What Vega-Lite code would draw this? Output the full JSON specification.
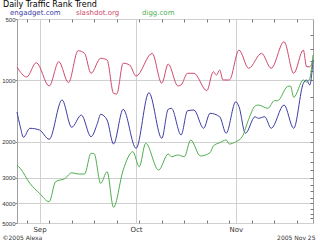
{
  "$schema": "https://vega.github.io/schema/vega-lite/v6.json",
  "width": 296,
  "height": 204,
  "autosize": {"type": "none"},
  "padding": {"left": 17, "top": 19, "right": 7, "bottom": 17},
  "background": "white",
  "config": {"view": {"stroke": "#a0a0a0", "strokeWidth": 1}, "font": "DejaVu Sans"},
  "data": {"values": [
    {"date": "2005-08-25", "site": "slashdot.org", "rank": 860},
    {"date": "2005-08-28", "site": "slashdot.org", "rank": 962},
    {"date": "2005-08-31", "site": "slashdot.org", "rank": 819},
    {"date": "2005-09-04", "site": "slashdot.org", "rank": 1065},
    {"date": "2005-09-07", "site": "slashdot.org", "rank": 810},
    {"date": "2005-09-10", "site": "slashdot.org", "rank": 1026},
    {"date": "2005-09-13", "site": "slashdot.org", "rank": 715},
    {"date": "2005-09-15", "site": "slashdot.org", "rank": 737},
    {"date": "2005-09-17", "site": "slashdot.org", "rank": 923},
    {"date": "2005-09-20", "site": "slashdot.org", "rank": 779},
    {"date": "2005-09-22", "site": "slashdot.org", "rank": 794},
    {"date": "2005-09-24", "site": "slashdot.org", "rank": 1157},
    {"date": "2005-09-25", "site": "slashdot.org", "rank": 1166},
    {"date": "2005-09-27", "site": "slashdot.org", "rank": 824},
    {"date": "2005-09-29", "site": "slashdot.org", "rank": 840},
    {"date": "2005-10-01", "site": "slashdot.org", "rank": 952},
    {"date": "2005-10-06", "site": "slashdot.org", "rank": 737},
    {"date": "2005-10-09", "site": "slashdot.org", "rank": 1033},
    {"date": "2005-10-11", "site": "slashdot.org", "rank": 831},
    {"date": "2005-10-14", "site": "slashdot.org", "rank": 1065},
    {"date": "2005-10-15", "site": "slashdot.org", "rank": 1053},
    {"date": "2005-10-17", "site": "slashdot.org", "rank": 923},
    {"date": "2005-10-19", "site": "slashdot.org", "rank": 923},
    {"date": "2005-10-23", "site": "slashdot.org", "rank": 1123},
    {"date": "2005-10-25", "site": "slashdot.org", "rank": 906},
    {"date": "2005-10-26", "site": "slashdot.org", "rank": 941},
    {"date": "2005-10-27", "site": "slashdot.org", "rank": 889},
    {"date": "2005-10-28", "site": "slashdot.org", "rank": 995},
    {"date": "2005-10-30", "site": "slashdot.org", "rank": 995},
    {"date": "2005-11-02", "site": "slashdot.org", "rank": 710},
    {"date": "2005-11-05", "site": "slashdot.org", "rank": 872},
    {"date": "2005-11-09", "site": "slashdot.org", "rank": 737},
    {"date": "2005-11-12", "site": "slashdot.org", "rank": 872},
    {"date": "2005-11-16", "site": "slashdot.org", "rank": 646},
    {"date": "2005-11-19", "site": "slashdot.org", "rank": 923},
    {"date": "2005-11-22", "site": "slashdot.org", "rank": 710},
    {"date": "2005-11-23", "site": "slashdot.org", "rank": 857},
    {"date": "2005-11-24", "site": "slashdot.org", "rank": 857},
    {"date": "2005-11-25", "site": "slashdot.org", "rank": 794},
    {"date": "2005-08-25", "site": "engadget.com", "rank": 1430},
    {"date": "2005-08-26", "site": "engadget.com", "rank": 1680},
    {"date": "2005-08-27", "site": "engadget.com", "rank": 1900},
    {"date": "2005-08-29", "site": "engadget.com", "rank": 1717},
    {"date": "2005-09-01", "site": "engadget.com", "rank": 1750},
    {"date": "2005-09-04", "site": "engadget.com", "rank": 1944},
    {"date": "2005-09-08", "site": "engadget.com", "rank": 1247},
    {"date": "2005-09-11", "site": "engadget.com", "rank": 1697},
    {"date": "2005-09-14", "site": "engadget.com", "rank": 1478},
    {"date": "2005-09-17", "site": "engadget.com", "rank": 1888},
    {"date": "2005-09-19", "site": "engadget.com", "rank": 1623},
    {"date": "2005-09-20", "site": "engadget.com", "rank": 1466},
    {"date": "2005-09-22", "site": "engadget.com", "rank": 1564},
    {"date": "2005-09-24", "site": "engadget.com", "rank": 2050},
    {"date": "2005-09-27", "site": "engadget.com", "rank": 1386},
    {"date": "2005-10-01", "site": "engadget.com", "rank": 2152},
    {"date": "2005-10-05", "site": "engadget.com", "rank": 1149},
    {"date": "2005-10-09", "site": "engadget.com", "rank": 1922},
    {"date": "2005-10-11", "site": "engadget.com", "rank": 1386},
    {"date": "2005-10-12", "site": "engadget.com", "rank": 1370},
    {"date": "2005-10-15", "site": "engadget.com", "rank": 1851},
    {"date": "2005-10-17", "site": "engadget.com", "rank": 1408},
    {"date": "2005-10-19", "site": "engadget.com", "rank": 1397},
    {"date": "2005-10-22", "site": "engadget.com", "rank": 1717},
    {"date": "2005-10-24", "site": "engadget.com", "rank": 1450},
    {"date": "2005-10-27", "site": "engadget.com", "rank": 1507},
    {"date": "2005-10-29", "site": "engadget.com", "rank": 1816},
    {"date": "2005-11-01", "site": "engadget.com", "rank": 1272},
    {"date": "2005-11-02", "site": "engadget.com", "rank": 1346},
    {"date": "2005-11-04", "site": "engadget.com", "rank": 1816},
    {"date": "2005-11-07", "site": "engadget.com", "rank": 1507},
    {"date": "2005-11-08", "site": "engadget.com", "rank": 1534},
    {"date": "2005-11-10", "site": "engadget.com", "rank": 1507},
    {"date": "2005-11-12", "site": "engadget.com", "rank": 1717},
    {"date": "2005-11-16", "site": "engadget.com", "rank": 1320},
    {"date": "2005-11-19", "site": "engadget.com", "rank": 1717},
    {"date": "2005-11-22", "site": "engadget.com", "rank": 1033},
    {"date": "2005-11-23", "site": "engadget.com", "rank": 995},
    {"date": "2005-11-24", "site": "engadget.com", "rank": 1053},
    {"date": "2005-11-25", "site": "engadget.com", "rank": 794},
    {"date": "2005-08-25", "site": "digg.com", "rank": 2598},
    {"date": "2005-08-26", "site": "digg.com", "rank": 2697},
    {"date": "2005-08-29", "site": "digg.com", "rank": 3195},
    {"date": "2005-09-01", "site": "digg.com", "rank": 3576},
    {"date": "2005-09-04", "site": "digg.com", "rank": 3932},
    {"date": "2005-09-06", "site": "digg.com", "rank": 3137},
    {"date": "2005-09-09", "site": "digg.com", "rank": 3019},
    {"date": "2005-09-11", "site": "digg.com", "rank": 2834},
    {"date": "2005-09-13", "site": "digg.com", "rank": 2876},
    {"date": "2005-09-15", "site": "digg.com", "rank": 2876},
    {"date": "2005-09-17", "site": "digg.com", "rank": 2277},
    {"date": "2005-09-18", "site": "digg.com", "rank": 2290},
    {"date": "2005-09-20", "site": "digg.com", "rank": 3195},
    {"date": "2005-09-22", "site": "digg.com", "rank": 2803},
    {"date": "2005-09-24", "site": "digg.com", "rank": 4188},
    {"date": "2005-09-27", "site": "digg.com", "rank": 2750},
    {"date": "2005-09-30", "site": "digg.com", "rank": 2236},
    {"date": "2005-10-02", "site": "digg.com", "rank": 2649},
    {"date": "2005-10-04", "site": "digg.com", "rank": 2034},
    {"date": "2005-10-08", "site": "digg.com", "rank": 2750},
    {"date": "2005-10-11", "site": "digg.com", "rank": 2295},
    {"date": "2005-10-12", "site": "digg.com", "rank": 2366},
    {"date": "2005-10-14", "site": "digg.com", "rank": 2321},
    {"date": "2005-10-16", "site": "digg.com", "rank": 2366},
    {"date": "2005-10-18", "site": "digg.com", "rank": 1960},
    {"date": "2005-10-21", "site": "digg.com", "rank": 2347},
    {"date": "2005-10-24", "site": "digg.com", "rank": 2261},
    {"date": "2005-10-25", "site": "digg.com", "rank": 2097},
    {"date": "2005-10-27", "site": "digg.com", "rank": 2020},
    {"date": "2005-10-29", "site": "digg.com", "rank": 1960},
    {"date": "2005-10-30", "site": "digg.com", "rank": 2050},
    {"date": "2005-11-01", "site": "digg.com", "rank": 1998},
    {"date": "2005-11-03", "site": "digg.com", "rank": 1888},
    {"date": "2005-11-05", "site": "digg.com", "rank": 1551},
    {"date": "2005-11-07", "site": "digg.com", "rank": 1335},
    {"date": "2005-11-08", "site": "digg.com", "rank": 1320},
    {"date": "2005-11-11", "site": "digg.com", "rank": 1370},
    {"date": "2005-11-13", "site": "digg.com", "rank": 1257},
    {"date": "2005-11-14", "site": "digg.com", "rank": 1257},
    {"date": "2005-11-17", "site": "digg.com", "rank": 1074},
    {"date": "2005-11-18", "site": "digg.com", "rank": 1065},
    {"date": "2005-11-19", "site": "digg.com", "rank": 1210},
    {"date": "2005-11-22", "site": "digg.com", "rank": 995},
    {"date": "2005-11-23", "site": "digg.com", "rank": 1020},
    {"date": "2005-11-24", "site": "digg.com", "rank": 977},
    {"date": "2005-11-25", "site": "digg.com", "rank": 750}
  ]},
  "resolve": {"axis": {"x": "independent", "y": "independent"}},
  "layer": [
    {
      "mark": {"type": "line", "strokeWidth": 1, "interpolate": "monotone"},
      "encoding": {
        "x": {
          "field": "date", "type": "temporal",
          "scale": {"type": "utc", "nice": false, "domain": [
            {"year": 2005, "month": "aug", "date": 25, "utc": true},
            {"year": 2005, "month": "nov", "date": 25, "utc": true}
          ]},
          "axis": {
            "orient": "bottom",
            "values": [
              {"year": 2005, "month": "sep", "date": 1, "utc": true},
              {"year": 2005, "month": "oct", "date": 1, "utc": true},
              {"year": 2005, "month": "nov", "date": 1, "utc": true}
            ],
            "format": "%b", "labelFlush": false, "labelOverlap": false,
            "grid": true, "gridColor": "#d0d0d0", "ticks": false, "domain": false,
            "labelFontSize": 7, "labelColor": "#333", "labelPadding": 2,
            "title": "©2005 Alexa", "titleFontSize": 6, "titleFontWeight": "normal",
            "titleColor": "#333", "titleAlign": "left", "titleBaseline": "alphabetic",
            "titleX": -15, "titleY": 16
          }
        },
        "y": {
          "field": "rank", "type": "quantitative",
          "scale": {"type": "log", "domain": [500, 5000], "nice": false, "zero": false, "reverse": true},
          "axis": {
            "orient": "left", "values": [500, 1000, 2000, 3000, 4000, 5000], "format": "d",
            "labelOverlap": false, "grid": true, "gridColor": "#d0d0d0", "tickSize": 2,
            "tickColor": "#888", "domain": false, "labelFont": "Liberation Sans", "labelFontSize": 6,
            "labelColor": "#333", "labelPadding": 0, "title": null
          }
        },
        "color": {
          "field": "site", "type": "nominal",
          "scale": {"domain": ["engadget.com", "slashdot.org", "digg.com"], "range": ["#3c3ca4", "#d04a6c", "#4fae4f"]},
          "legend": {
            "orient": "none", "legendX": -14, "legendY": -18, "direction": "horizontal",
            "columns": 3, "gridAlign": "all", "columnPadding": 8,
            "title": "Daily Traffic Rank Trend", "titleFontSize": 8, "titleFontWeight": "normal",
            "titleColor": "#000", "titlePadding": 0, "titleBaseline": "top",
            "labelFontSize": 7, "labelOffset": 0, "symbolSize": 0, "symbolStrokeWidth": 0,
            "symbolOpacity": 0,
            "encode": {"labels": {"update": {"fill": {"scale": "color", "field": "value"}}}}
          }
        }
      }
    },
    {
      "mark": {"type": "line", "opacity": 0},
      "encoding": {
        "x": {
          "field": "date", "type": "temporal",
          "axis": {
            "orient": "top",
            "values": [
              {"year": 2005, "month": "aug", "date": 28, "utc": true},
              {"year": 2005, "month": "sep", "date": 4, "utc": true},
              {"year": 2005, "month": "sep", "date": 11, "utc": true},
              {"year": 2005, "month": "sep", "date": 18, "utc": true},
              {"year": 2005, "month": "sep", "date": 25, "utc": true},
              {"year": 2005, "month": "oct", "date": 2, "utc": true},
              {"year": 2005, "month": "oct", "date": 9, "utc": true},
              {"year": 2005, "month": "oct", "date": 16, "utc": true},
              {"year": 2005, "month": "oct", "date": 23, "utc": true},
              {"year": 2005, "month": "oct", "date": 30, "utc": true},
              {"year": 2005, "month": "nov", "date": 6, "utc": true},
              {"year": 2005, "month": "nov", "date": 13, "utc": true},
              {"year": 2005, "month": "nov", "date": 20, "utc": true}
            ],
            "labels": false, "grid": false, "domain": false, "tickSize": -3, "tickColor": "#777", "title": null
          }
        },
        "y": {
          "field": "rank", "type": "quantitative",
          "scale": {"type": "log", "domain": [500, 5000], "nice": false, "zero": false, "reverse": true},
          "axis": {
            "orient": "right",
            "values": [600, 700, 800, 900, 1000, 1200, 1400, 1600, 1800, 2000, 2250, 2500, 2750, 3000, 3250, 3500, 3750, 4000, 4250, 4500, 4750],
            "labels": false, "grid": false, "domain": false, "tickSize": -3, "tickColor": "#777", "title": null
          }
        }
      }
    },
    {
      "mark": {"type": "line", "opacity": 0},
      "encoding": {
        "x": {
          "field": "date", "type": "temporal",
          "axis": {
            "orient": "bottom",
            "values": [
              {"year": 2005, "month": "aug", "date": 28, "utc": true},
              {"year": 2005, "month": "sep", "date": 4, "utc": true},
              {"year": 2005, "month": "sep", "date": 11, "utc": true},
              {"year": 2005, "month": "sep", "date": 18, "utc": true},
              {"year": 2005, "month": "sep", "date": 25, "utc": true},
              {"year": 2005, "month": "oct", "date": 2, "utc": true},
              {"year": 2005, "month": "oct", "date": 9, "utc": true},
              {"year": 2005, "month": "oct", "date": 16, "utc": true},
              {"year": 2005, "month": "oct", "date": 23, "utc": true},
              {"year": 2005, "month": "oct", "date": 30, "utc": true},
              {"year": 2005, "month": "nov", "date": 6, "utc": true},
              {"year": 2005, "month": "nov", "date": 13, "utc": true},
              {"year": 2005, "month": "nov", "date": 20, "utc": true}
            ],
            "labels": false, "grid": false, "domain": false, "tickSize": -3, "tickColor": "#777",
            "title": "2005 Nov 25", "titleFontSize": 6, "titleFontWeight": "normal",
            "titleColor": "#333", "titleAlign": "right", "titleBaseline": "alphabetic",
            "titleX": 298, "titleY": 16
          }
        },
        "y": {
          "field": "rank", "type": "quantitative",
          "scale": {"type": "log", "domain": [500, 5000], "nice": false, "zero": false, "reverse": true},
          "axis": null
        }
      }
    }
  ]
}
